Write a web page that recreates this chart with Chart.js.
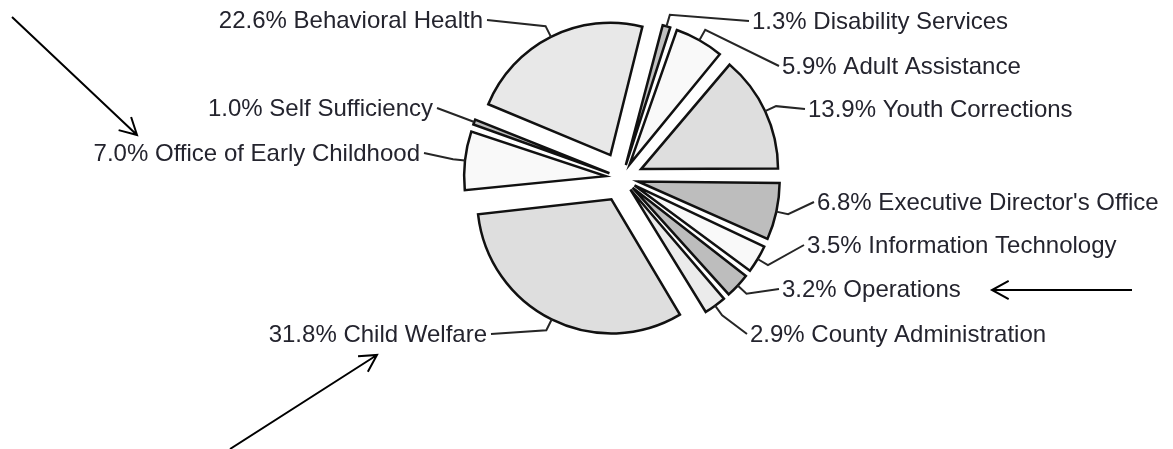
<!DOCTYPE html>
<html lang="en">
<head>
    <meta charset="UTF-8">
    <title>Budget by Division</title>
    <style>
        html, body { margin: 0; padding: 0; background: #fff; }
        #budgetPie { display: block; }
    </style>
</head>
<body>
    <canvas id="budgetPie" width="1173" height="449"></canvas>

    <script src="https://cdn.jsdelivr.net/npm/chart.js"></script>
    <script>
        // Divisions, clockwise from the top
        const divisions = [
            'Disability Services',
            'Adult Assistance',
            'Youth Corrections',
            "Executive Director's Office",
            'Information Technology',
            'Operations',
            'County Administration',
            'Child Welfare',
            'Office of Early Childhood',
            'Self Sufficiency',
            'Behavioral Health'
        ];
        const shares = [1.3, 5.9, 13.9, 6.8, 3.5, 3.2, 2.9, 31.8, 7.0, 1.0, 22.6];
        const fills = ['#bfbfbf', '#f9f9f9', '#dedede', '#bdbdbd', '#f9f9f9', '#bdbdbd',
                       '#ebebeb', '#dedede', '#f9f9f9', '#bdbdbd', '#e8e8e8'];

        // where each label sits: x, y (middle), and which side of the pie
        const labelSpots = [
            [752, 21, 'left'],
            [782, 66, 'left'],
            [808, 109, 'left'],
            [817, 202, 'left'],
            [807, 245, 'left'],
            [782, 289, 'left'],
            [750, 334, 'left'],
            [487, 334, 'right'],
            [420, 153, 'right'],
            [433, 108, 'right'],
            [483, 20, 'right']
        ];

        // hand drawn arrows on top of the chart
        const arrows = [
            { from: [12, 17], to: [137, 135] },
            { from: [1132, 290], to: [992, 290] },
            { from: [230, 449], to: [377, 355] }
        ];

        const RADIUS = 132;
        const EXPLODE = 26;   // how far every slice is pulled out
        const total = shares.reduce((a, b) => a + b, 0);

        // Chart.js moves a slice by offset/4 * (2 - sin(angle)), so undo that
        // to get the same pull for every slice
        const offsets = shares.map(v => {
            const angle = Math.min(Math.PI, v / total * 2 * Math.PI);
            return 4 * EXPLODE / (2 - Math.sin(angle));
        });

        const leaderLabels = {
            id: 'leaderLabels',
            afterDatasetsDraw(chart) {
                const ctx = chart.ctx;
                const arcs = chart.getDatasetMeta(0).data;
                ctx.save();
                ctx.font = '24px "Liberation Sans", Arial, sans-serif';
                ctx.textBaseline = 'middle';
                ctx.strokeStyle = '#262626';
                ctx.lineWidth = 2;
                ctx.fillStyle = '#24242e';
                arcs.forEach((arc, i) => {
                    const { x, y, startAngle, endAngle } = arc.getProps(['x', 'y', 'startAngle', 'endAngle'], true);
                    const mid = (startAngle + endAngle) / 2;
                    const ux = Math.cos(mid), uy = Math.sin(mid);
                    const [lx, ly, side] = labelSpots[i];
                    const r0 = EXPLODE + RADIUS;
                    const r1 = r0 + 12;
                    const endX = side === 'left' ? lx - 3 : lx + 4;

                    ctx.beginPath();
                    ctx.moveTo(x + ux * r0, y + uy * r0);
                    ctx.lineTo(x + ux * r1, y + uy * r1);
                    ctx.lineTo(endX, ly);
                    ctx.stroke();

                    ctx.textAlign = side;
                    ctx.fillText(shares[i].toFixed(1) + '% ' + divisions[i], lx, ly + 1);
                });
                ctx.restore();
            },
            afterDraw(chart) {
                const ctx = chart.ctx;
                ctx.save();
                ctx.strokeStyle = '#000';
                ctx.lineWidth = 2;
                arrows.forEach(a => {
                    const [x0, y0] = a.from, [x1, y1] = a.to;
                    const ang = Math.atan2(y1 - y0, x1 - x0);
                    const head = 19, spread = Math.PI / 6.3;
                    ctx.beginPath();
                    ctx.moveTo(x0, y0);
                    ctx.lineTo(x1, y1);
                    ctx.moveTo(x1 - head * Math.cos(ang - spread), y1 - head * Math.sin(ang - spread));
                    ctx.lineTo(x1, y1);
                    ctx.lineTo(x1 - head * Math.cos(ang + spread), y1 - head * Math.sin(ang + spread));
                    ctx.stroke();
                });
                ctx.restore();
            }
        };

        const ctxPie = document.getElementById('budgetPie').getContext('2d');

        const budgetPie = new Chart(ctxPie, {
            type: 'pie',
            data: {
                labels: divisions,
                datasets: [
                    {
                        data: shares,
                        backgroundColor: fills,
                        borderColor: '#111',
                        borderWidth: 2.5,
                        borderJoinStyle: 'miter',
                        offset: offsets,
                        hoverOffset: 0
                    }
                ]
            },
            options: {
                responsive: false,
                maintainAspectRatio: false,
                animation: false,
                events: [],
                rotation: 14,
                radius: RADIUS,
                layout: {
                    padding: { left: 71, right: 0, top: 0, bottom: 93 }
                },
                plugins: {
                    legend: { display: false },
                    tooltip: { enabled: false },
                    title: { display: false }
                }
            },
            plugins: [leaderLabels]
        });
    </script>
</body>
</html>
